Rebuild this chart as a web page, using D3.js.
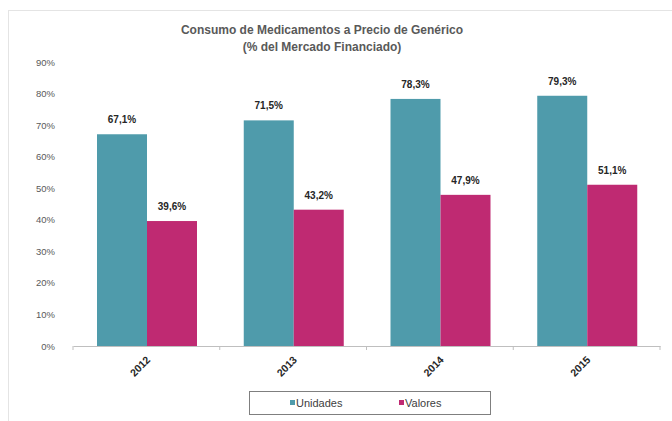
<!DOCTYPE html>
<html><head><meta charset="utf-8">
<script src="https://cdn.jsdelivr.net/npm/d3@7"></script>
<style>body{margin:0;background:#fff;}svg{display:block;font-family:"Liberation Sans",Arial,sans-serif;}</style>
</head><body><svg id="c" width="672" height="421"></svg>
<script>
const years = ["2012","2013","2014","2015"];
const unidades = [67.1, 71.5, 78.3, 79.3];
const valores = [39.6, 43.2, 47.9, 51.1];
const seriesNames = ["Unidades","Valores"];
const yTicks = [0,10,20,30,40,50,60,70,80,90];
const colors = ["#4f9bab","#bf2a72"];

const svg = d3.select("#c");
svg.append("rect").attr("x",8.5).attr("y",10.5).attr("width",700).attr("height",420)
  .attr("fill","#fff").attr("stroke","#e4e4e4");

const x0 = d3.scaleBand().domain(years).range([73,660]).paddingInner(0).paddingOuter(0);
const x1 = d3.scaleBand().domain(seriesNames).range([24,124]).paddingInner(0).paddingOuter(0);
const y = d3.scaleLinear().domain([0,90]).range([346,62]);

// title
svg.append("text").attr("x",322).attr("y",34).attr("text-anchor","middle")
  .attr("font-size",12).attr("font-weight","bold").attr("fill","#595959")
  .text("Consumo de Medicamentos a Precio de Genérico");
svg.append("text").attr("x",322).attr("y",51).attr("text-anchor","middle")
  .attr("font-size",12).attr("font-weight","bold").attr("fill","#595959")
  .text("(% del Mercado Financiado)");

// y axis labels
const yAxis = d3.axisLeft(y).tickValues(yTicks).tickSize(0).tickPadding(18).tickFormat(d=>d+"%");
const ya = svg.append("g").attr("transform","translate(73,0)").call(yAxis);
ya.select(".domain").remove();
ya.selectAll("text").attr("font-size",9.5).attr("fill","#595959").attr("font-family","Liberation Sans, Arial, sans-serif");

const data = years.map((yr,i)=>({year:yr, vals:[unidades[i], valores[i]]}));
const g = svg.append("g");
data.forEach(d=>{
  d.vals.forEach((v,j)=>{
    const xx = x0(d.year)+x1(seriesNames[j]);
    g.append("rect").attr("x",xx).attr("y",y(v)).attr("width",x1.bandwidth()).attr("height",y(0)-y(v))
      .attr("fill",colors[j]);
    g.append("text").attr("x",xx+x1.bandwidth()/2).attr("y",y(v)-11).attr("text-anchor","middle")
      .attr("font-size",10).attr("font-weight","bold").attr("fill","#262626")
      .text(v.toFixed(1).replace(".",",")+"%");
  });
});

// x axis
const xAxis = d3.axisBottom(x0).tickSize(0).tickFormat("");
const xa = svg.append("g").attr("transform","translate(0,346)").call(xAxis);
xa.select(".domain").attr("stroke","#bfbfbf");
const bounds = [73].concat(years.slice(1).map(yr=>x0(yr))).concat([660]);
bounds.forEach(bx=>{
  svg.append("line").attr("x1",bx).attr("x2",bx).attr("y1",346).attr("y2",350).attr("stroke","#bfbfbf");
});
years.forEach(yr=>{
  const cx = x0(yr)+x0.bandwidth()/2;
  svg.append("text").attr("transform",`translate(${cx+2},${358}) rotate(-45)`)
    .attr("text-anchor","end").attr("font-size",10.5).attr("font-weight","bold").attr("fill","#262626")
    .attr("dy","0.35em").text(yr);
});

// legend
svg.append("rect").attr("x",249.5).attr("y",391.5).attr("width",241).attr("height",23)
  .attr("fill","#fff").attr("stroke","#7f7f7f");
const lg = [{x:290},{x:399}];
seriesNames.forEach((s,i)=>{
  svg.append("rect").attr("x",lg[i].x).attr("y",400).attr("width",5).attr("height",5).attr("fill",colors[i]);
  svg.append("text").attr("x",lg[i].x+6).attr("y",407).attr("font-size",11).attr("fill","#404040").text(s);
});
</script></body></html>
